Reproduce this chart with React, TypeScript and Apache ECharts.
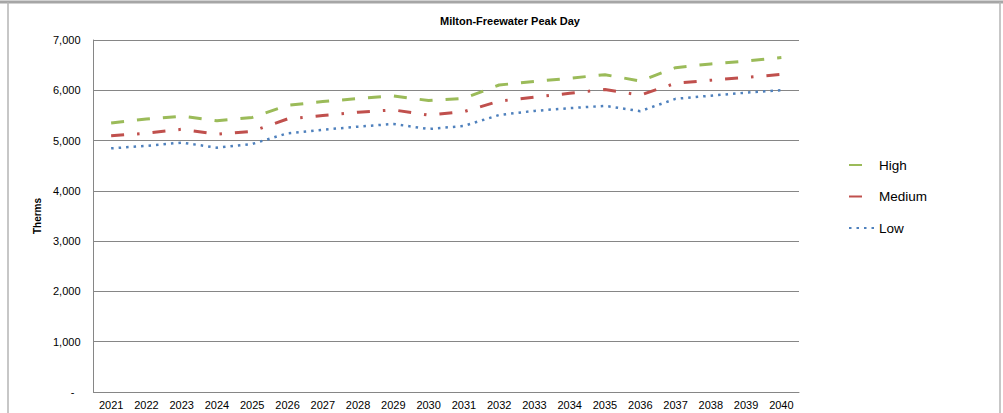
import React, { useEffect, useRef } from "react";
import * as echarts from "echarts";

const years = ["2021","2022","2023","2024","2025","2026","2027","2028","2029","2030","2031","2032","2033","2034","2035","2036","2037","2038","2039","2040"];
const high = [5350, 5430, 5485, 5395, 5460, 5700, 5775, 5835, 5890, 5795, 5840, 6105, 6175, 6240, 6310, 6185, 6450, 6525, 6580, 6650];
const medium = [5095, 5145, 5225, 5125, 5185, 5430, 5500, 5565, 5610, 5505, 5575, 5785, 5865, 5940, 6015, 5905, 6140, 6200, 6255, 6315];
const low = [4845, 4895, 4960, 4858, 4932, 5145, 5215, 5277, 5330, 5230, 5290, 5510, 5590, 5645, 5690, 5585, 5830, 5893, 5953, 6000];

const FONT = "'Liberation Sans', Arial, sans-serif";

export default function App() {
  const ref = useRef<HTMLDivElement>(null);
  useEffect(() => {
    if (!ref.current) return;
    const chart = echarts.init(ref.current, undefined, { renderer: "svg" });
    chart.setOption({
      animation: false,
      backgroundColor: "#ffffff",
      title: {
        text: "Milton-Freewater Peak Day",
        left: 505,
        textAlign: "center",
        top: 10,
        textStyle: { fontFamily: FONT, fontSize: 11, fontWeight: "bold", color: "#000" },
      },
      graphic: [
        { type: "line", shape: { x1: 0, y1: 2, x2: 1003, y2: 2 }, style: { stroke: "#a6a6a6", lineWidth: 3 } },
        { type: "line", shape: { x1: 8, y1: 2, x2: 8, y2: 413 }, style: { stroke: "#b4b4b4", lineWidth: 1.5 } },
        { type: "line", shape: { x1: 1000, y1: 2, x2: 1000, y2: 413 }, style: { stroke: "#b4b4b4", lineWidth: 1.5 } },
      ],
      grid: { left: 93.5, right: 204, top: 40, bottom: 21 },
      legend: {
        orient: "vertical",
        left: 843,
        top: 153,
        itemWidth: 25,
        itemHeight: 14,
        itemGap: 17.5,
        itemStyle: { opacity: 0 },
        textStyle: { fontFamily: FONT, fontSize: 13.5, color: "#000" },
        data: ["High", "Medium", "Low"],
      },
      xAxis: {
        type: "category",
        data: years,
        boundaryGap: true,
        axisLine: { lineStyle: { color: "#868686", width: 1 } },
        axisTick: { show: false },
        axisLabel: { fontFamily: FONT, fontSize: 11, color: "#000", margin: 7, interval: 0 },
      },
      yAxis: {
        type: "value",
        min: 0,
        max: 7000,
        interval: 1000,
        name: "Therms",
        nameLocation: "middle",
        nameGap: 48,
        nameTextStyle: { fontFamily: FONT, fontSize: 10, fontWeight: "bold", color: "#000" },
        axisLine: { show: true, lineStyle: { color: "#868686", width: 1 } },
        axisTick: { show: false },
        splitLine: { lineStyle: { color: "#868686", width: 1 } },
        axisLabel: {
          fontFamily: FONT,
          fontSize: 11,
          color: "#000",
          margin: 13,
          formatter: (v: number) => (v === 0 ? "{z|-}" : v.toLocaleString("en-US")),
          rich: { z: { fontFamily: FONT, fontSize: 11, color: "#000", padding: [0, 6, 0, 0] } },
        },
      },
      series: [
        {
          name: "High",
          type: "line",
          data: high,
          symbol: "none",
          color: "#9BBB59",
          lineStyle: { color: "#9BBB59", width: 3, type: [13, 13] },
        },
        {
          name: "Medium",
          type: "line",
          data: medium,
          symbol: "none",
          color: "#C0504D",
          lineStyle: { color: "#C0504D", width: 3, type: [13, 13, 2.5, 13] },
        },
        {
          name: "Low",
          type: "line",
          data: low,
          symbol: "none",
          color: "#4F81BD",
          lineStyle: { color: "#4F81BD", width: 2.5, type: [2.5, 5] },
        },
      ],
    });
    return () => chart.dispose();
  }, []);
  return (
    <div
      ref={ref}
      style={{ position: "absolute", left: 0, top: 0, width: 1003, height: 413 }}
    />
  );
}
